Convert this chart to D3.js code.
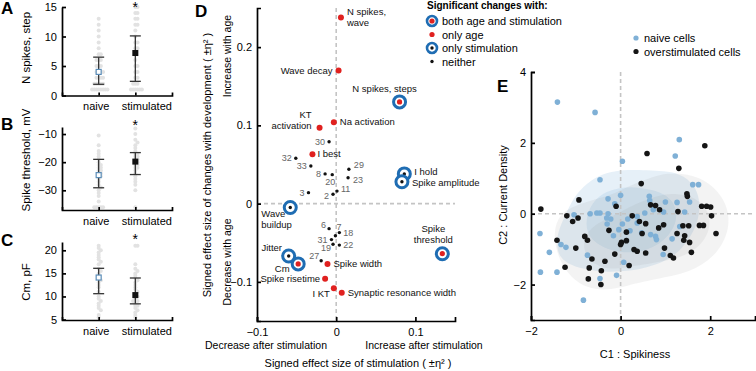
<!DOCTYPE html>
<html>
<head>
<meta charset="utf-8">
<script src="https://cdn.jsdelivr.net/npm/d3@7"></script>
<style>
body { margin: 0; background: #fff; }
svg { display: block; font-family: "Liberation Sans", Arial, sans-serif; }
.axis path, .axis line { stroke: #000; stroke-width: 1.7; }
.axis text { font-size: 11px; fill: #000; font-family: "Liberation Sans", Arial, sans-serif; }
</style>
</head>
<body>
<script>
// ---------- panels A-C : naive vs stimulated ----------
const groups = ['naive', 'stimulated'];

const spikesNaive = [13, 12, 11, 10, 9, 8, 7, 7, 6, 6, 6, 5, 5, 5, 4, 4, 4, 4, 3, 3, 3, 3, 2, 2, 2, 2, 2, 1, 1, 1, 1, 1, 1, 1, 1];
const spikesStim = [15, 15, 14, 14, 13, 13, 12, 12, 11, 10, 9, 9, 8, 8, 7, 6, 5, 5, 4, 4, 3, 3, 2, 2, 2, 1, 1, 1, 1, 1, 1];
const spikesMean = [4.0, 7.2];
const spikesLo = [1.9, 2.4];
const spikesHi = [6.5, 10.1];

const thresholdNaive = [-10.5, -14, -16, -17, -18, -19, -20, -21, -21, -22, -22, -23, -23, -24, -24, -25, -25, -26, -27, -28, -29, -30, -31, -32, -34, -36, -36, -36, -36, -36];
const thresholdStim = [-8, -10, -12, -13, -14, -15, -16, -17, -17, -18, -18, -19, -19, -20, -20, -21, -21, -22, -22, -23, -24, -25, -26, -27, -28, -30, -36];
const thresholdMean = [-24.6, -19.8];
const thresholdLo = [-29.1, -24.4];
const thresholdHi = [-19.0, -16.6];

const cmNaive = [21, 20.5, 20, 19.5, 19, 18.5, 18, 17.5, 17, 16, 15.5, 15, 14.5, 14, 13.5, 13, 12.5, 12, 11, 10, 9.5, 9, 8.5, 8, 7.5, 7, 6, 5.5];
const cmStim = [21, 21, 17, 16, 15.5, 15, 14.5, 14, 13.5, 13, 12.5, 12, 11.5, 11, 10.5, 10, 10, 9.5, 9, 9, 8.5, 8, 8, 7.5, 7, 6.5, 6, 5.5];
const cmMean = [14.1, 10.3];
const cmLo = [10.6, 8.4];
const cmHi = [16.1, 14.0];

// ---------- panel D : effect sizes ----------
const effectNames = ['N spikes, wave', 'Wave decay', 'N spikes, steps', 'Na activation', 'KT activation', '30', 'I best',
  '32', '33', '8', '20', '29', '23', 'I hold', 'Spike amplitude', '3', '2', '11', 'Wave buildup',
  '6', '7', '18', '31', '19', '22', '27', 'Jitter', 'Cm', 'Spike width', 'Spike risetime', 'I KT',
  'Synaptic resonance width', 'Spike threshold'];
const stimEffect = [0.006, 0.003, 0.080, -0.003, -0.021, -0.009, -0.030,
  -0.051, -0.032, -0.014, -0.005, 0.016, 0.015, 0.086, 0.083, -0.035, -0.004, 0.001, -0.058,
  -0.009, -0.001, 0.004, -0.006, -0.004, 0.004, -0.019, -0.060, -0.048, -0.011, -0.014, -0.003,
  0.007, 0.134];
const ageEffect = [0.238, 0.170, 0.130, 0.104, 0.097, 0.079, 0.063,
  0.058, 0.048, 0.038, 0.037, 0.044, 0.033, 0.038, 0.028, 0.014, 0.012, 0.016, -0.005,
  -0.032, -0.041, -0.037, -0.046, -0.052, -0.053, -0.073, -0.067, -0.077, -0.077, -0.096, -0.108,
  -0.114, -0.064];
const significance = ['age', 'age', 'both', 'age', 'age', 'none', 'age',
  'none', 'none', 'none', 'none', 'none', 'none', 'stim', 'stim', 'none', 'none', 'none', 'stim',
  'none', 'none', 'none', 'none', 'none', 'none', 'none', 'stim', 'both', 'age', 'age', 'age',
  'age', 'both'];
const legendKeys = ['both', 'age', 'stim', 'none'];
const legendLabels = ['both age and stimulation', 'only age', 'only stimulation', 'neither'];

// ---------- panel E : PCA of cells ----------
const naiveC1 = [-1.41, -0.57, 1.31, 1.22, 0.04, -0.46, 1.61, 1.74, 0.00, -0.28, -0.13, 0.64, 0.65, 1.00, 0.73, 0.96,
  1.26, 1.54, 1.43, -1.04, -0.68, -0.53, -0.46, -0.28, -0.22, -0.30, -0.04, -0.16, 0.04, 0.16, 0.37, 0.54,
  0.37, 0.21, 0.47, 0.67, 0.78, 0.80, 1.15, 1.32, 0.95, 0.07, -0.74, -1.33, -1.22, -1.59, -1.42, -1.79,
  -0.46, -0.09, -0.83, -1.80, -0.31];
const naiveC2 = [3.15, 2.86, 2.09, 1.63, 1.48, 0.96, 0.82, 0.82, 0.52, 0.42, 0.28, 0.49, 0.37, 0.33, 0.11, 0.05,
  0.32, 0.33, 0.05, -0.03, 0.00, 0.02, 0.02, 0.00, -0.15, -0.29, -0.45, -0.62, -0.29, -0.15, -0.08, 0.02,
  -0.26, -0.48, -0.54, -0.59, -0.64, -0.73, -0.71, -0.36, -1.15, -1.37, -1.17, -0.87, -0.95, -1.09, -1.65, -1.65,
  -1.83, -1.74, -2.44, -0.56, -0.12];
const stimC1 = [1.88, 0.59, 1.30, 0.46, -0.93, -0.10, 0.67, 0.78, 0.87, 1.28, 1.48, 1.49, 1.81, 1.92, 2.01, 2.03,
  2.13, -1.20, -1.07, -0.95, -0.26, 0.26, 0.42, 0.56, 0.13, 0.02, 0.13, 0.00, 0.48, 0.85, 0.96, 1.26,
  1.39, 1.52, 1.43, 1.41, 1.54, 1.76, 1.85, 0.98, 1.11, 1.18, 1.58, 0.30, 0.37, 0.56, 0.19, -0.13,
  -0.35, -0.64, -0.80, -0.74, -1.00, -1.42, -1.24, -0.70, -0.43, -0.72, -0.44, -1.78];
const stimC2 = [1.92, 1.70, 1.28, 0.85, 0.39, 0.21, 0.25, 0.23, 0.11, 0.06, 0.56, 0.49, 0.21, 0.21, 0.19, -0.06,
  -0.56, -0.06, -0.22, -0.12, -0.47, -0.06, -0.22, -0.28, -0.52, -0.81, -0.76, -0.87, -0.56, -0.40, -0.31, -0.56,
  -0.34, -0.34, -0.62, -0.75, -0.81, -0.33, -0.33, -0.97, -1.18, -1.25, -1.09, -1.01, -1.06, -1.11, -1.46, -1.14,
  -1.34, -1.28, -0.64, -0.75, -0.97, -0.75, -1.51, -1.53, -1.61, -1.84, -2.00, 0.13];

// ---------- drawing ----------
const svg = d3.select('body').append('svg')
    .attr('width', 756)
    .attr('height', 371);

const ringBlue = '#1f6db3';
const dotRed = '#e0211f';

function panelLetter(txt, x, y) {
    svg.append('text')
        .attr('x', x).attr('y', y)
        .attr('font-size', 17).attr('font-weight', 'bold')
        .text(txt);
}

function rotLabel(txt, x, y, size) {
    svg.append('text')
        .attr('transform', `translate(${x},${y}) rotate(-90)`)
        .attr('text-anchor', 'middle')
        .attr('font-size', size)
        .text(txt);
}

// swarm-like horizontal spread for values that share a row
function swarmOffsets(values, y) {
    const rows = new Map();
    return values.map(v => {
        const key = Math.round(y(v) / 3);
        const k = rows.get(key) || 0;
        rows.set(key, k + 1);
        return (k % 2 ? 1 : -1) * Math.ceil(k / 2) * 2.2;
    });
}

const gx = d3.scalePoint().domain(groups).range([62, 172]).padding(1);

function groupPanel(p) {
    const y = d3.scaleLinear().domain(p.domain).range(p.range);
    const g = svg.append('g');

    [p.naive, p.stim].forEach((vals, gi) => {
        const offs = swarmOffsets(vals, y);
        g.append('g').selectAll('circle')
            .data(vals)
            .enter().append('circle')
                .attr('cx', (d, i) => gx(groups[gi]) + offs[i])
                .attr('cy', d => y(d))
                .attr('r', 2)
                .attr('fill', '#e2e2e2');
    });

    g.append('g').attr('class', 'axis')
        .attr('transform', `translate(62,0)`)
        .call(d3.axisLeft(y).tickValues(p.ticks).tickSizeInner(-4).tickSizeOuter(0).tickPadding(5));
    const xa = g.append('g').attr('class', 'axis')
        .attr('transform', `translate(0,${p.range[0]})`)
        .call(d3.axisBottom(gx).tickSizeInner(-3).tickSizeOuter(-3).tickPadding(7));
    // the category labels sit slightly apart so they do not touch
    xa.selectAll('.tick text').attr('dx', d => d === 'naive' ? -3 : 11);

    // error bars
    groups.forEach((grp, i) => {
        const x = gx(grp);
        g.append('line').attr('x1', x).attr('x2', x)
            .attr('y1', y(p.lo[i])).attr('y2', y(p.hi[i]))
            .attr('stroke', '#333').attr('stroke-width', 1.3);
        [p.lo[i], p.hi[i]].forEach(v => {
            g.append('line').attr('x1', x - 5.5).attr('x2', x + 5.5)
                .attr('y1', y(v)).attr('y2', y(v))
                .attr('stroke', '#333').attr('stroke-width', 1.3);
        });
    });
    const xn = gx('naive'), xs = gx('stimulated');
    g.append('rect')
        .attr('x', xn - 2.5).attr('y', y(p.mean[0]) - 2.5)
        .attr('width', 5).attr('height', 5)
        .attr('fill', '#fff').attr('stroke', '#5b8db8').attr('stroke-width', 1.2);
    g.append('rect')
        .attr('x', xs - 3).attr('y', y(p.mean[1]) - 3)
        .attr('width', 6).attr('height', 6)
        .attr('fill', '#111');

    g.append('text').attr('x', xs).attr('y', p.starY)
        .attr('text-anchor', 'middle').attr('font-size', 14).text('*');

    rotLabel(p.label, 30, p.labelY, 11.5);
    panelLetter(p.letter, 1, p.letterY);
}

groupPanel({domain: [0, 15], range: [95.5, 7], ticks: [0, 5, 10, 15],
    naive: spikesNaive, stim: spikesStim, mean: spikesMean, lo: spikesLo, hi: spikesHi,
    label: 'N spikes, step', labelY: 48, letter: 'A', letterY: 14, starY: 12});
groupPanel({domain: [-37, -7.5], range: [210, 127], ticks: [-30, -20, -10],
    naive: thresholdNaive, stim: thresholdStim, mean: thresholdMean, lo: thresholdLo, hi: thresholdHi,
    label: 'Spike threshold, mV', labelY: 160, letter: 'B', letterY: 130, starY: 130});
groupPanel({domain: [4.9, 21.8], range: [320, 242], ticks: [5, 10, 15, 20],
    naive: cmNaive, stim: cmStim, mean: cmMean, lo: cmLo, hi: cmHi,
    label: 'Cm, pF', labelY: 282, letter: 'C', letterY: 246, starY: 244});

// ---------- panel D ----------
const dxs = d3.scaleLinear().domain([-0.1, 0.15]).range([257, 455]);
const dys = d3.scaleLinear().domain([-0.15, 0.25]).range([321, 8]);
const fmt1 = d => d === 0 ? '0' : d3.format('.1f')(d);

const dg = svg.append('g');
dg.append('line').attr('x1', dxs(0)).attr('x2', dxs(0)).attr('y1', dys(0.25)).attr('y2', dys(-0.15))
    .attr('stroke', '#c4c4c4').attr('stroke-width', 1.6).attr('stroke-dasharray', '4,3');
dg.append('line').attr('x1', dxs(-0.1)).attr('x2', dxs(0.15)).attr('y1', dys(0)).attr('y2', dys(0))
    .attr('stroke', '#c4c4c4').attr('stroke-width', 1.6).attr('stroke-dasharray', '4,3');

dg.append('g').attr('class', 'axis')
    .attr('transform', `translate(${dxs(-0.1)},0)`)
    .call(d3.axisLeft(dys).tickValues([-0.1, 0, 0.1, 0.2]).tickFormat(fmt1)
        .tickSizeInner(-4).tickSizeOuter(-4).tickPadding(5));
dg.append('g').attr('class', 'axis')
    .attr('transform', `translate(0,${dys(-0.15)})`)
    .call(d3.axisBottom(dxs).tickValues([-0.1, 0, 0.1]).tickFormat(fmt1)
        .tickSizeInner(-4).tickSizeOuter(-4).tickPadding(7));

// label placement for each effect (dx, dy from the point, anchor, line break)
const labelPlace = {
    'N spikes, wave': [6, -2, 'start', ['N spikes,', 'wave']],
    'Wave decay': [-6, 3, 'end'],
    'N spikes, steps': [-15, -10, 'middle'],
    'Na activation': [6, 3, 'start'],
    'KT activation': [-8, -10, 'end', ['KT', 'activation']],
    '30': [-4, 3, 'end'],
    'I best': [5, 3, 'start'],
    '32': [-4, 3, 'end'], '33': [-4, 3, 'end'], '8': [-4, 3, 'end'],
    '20': [3, 10, 'end'],
    '29': [5, -1, 'start'], '23': [5, 5, 'start'],
    'I hold': [10, 1, 'start'],
    'Spike amplitude': [10, 4, 'start'],
    '3': [-4, 3, 'end'], '2': [-4, 5, 'end'], '11': [4, 1, 'start'],
    'Wave buildup': [-29, 9, 'start', ['Wave', 'buildup']],
    '6': [-3, -1, 'end'], '7': [1, -6, 'start'], '18': [4, 3, 'start'],
    '31': [-4, 3, 'end'], '19': [-2, 7, 'end'], '22': [4, 3, 'start'],
    '27': [-2, -2, 'end'],
    'Jitter': [-17, -5, 'middle'],
    'Cm': [-16, 8, 'middle'],
    'Spike width': [6, 3, 'start'],
    'Spike risetime': [-5, 3, 'end'],
    'I KT': [-4, 9, 'end'],
    'Synaptic resonance width': [6, 3, 'start'],
    'Spike threshold': [-9, -22, 'middle', ['Spike', 'threshold']]
};

function marker(sel, kind, ringR, ringW, redR, blackR) {
    if (kind === 'both' || kind === 'stim') {
        sel.append('circle').attr('r', ringR).attr('fill', '#fff')
            .attr('stroke', ringBlue).attr('stroke-width', ringW);
    }
    if (kind === 'both' || kind === 'age') {
        sel.append('circle').attr('r', redR).attr('fill', dotRed);
    } else {
        sel.append('circle').attr('r', blackR).attr('fill', '#111');
    }
}

const effects = effectNames.map((n, i) => ({name: n, x: stimEffect[i], y: ageEffect[i], sig: significance[i]}));

const eg = dg.selectAll('g.effect')
    .data(effects)
    .enter().append('g')
        .attr('class', 'effect')
        .attr('transform', d => `translate(${dxs(d.x)},${dys(d.y)})`);
eg.each(function(d) {
    marker(d3.select(this), d.sig, 6, 3, d.sig === 'both' ? 2.6 : 3, 1.7);
    const pl = labelPlace[d.name];
    const isNum = /^\d+$/.test(d.name);
    const t = d3.select(this).append('text')
        .attr('x', pl[0]).attr('y', pl[1])
        .attr('text-anchor', pl[2])
        .attr('font-size', isNum ? 9 : 9.5)
        .attr('fill', isNum ? '#666' : '#111');
    (pl[3] || [d.name]).forEach((ln, i) => {
        t.append('tspan').attr('x', pl[0]).attr('dy', i ? 11 : 0).text(ln);
    });
});

rotLabel('Signed effect size of changes with development ( \u00b1\u03b7\u00b2 )', 211, 165, 11);
rotLabel('Increase with age', 231, 56, 10.5);
rotLabel('Decrease with age', 231, 262, 10.5);
svg.append('text').attr('x', 266).attr('y', 349).attr('text-anchor', 'middle').attr('font-size', 10.5)
    .text('Decrease after stimulation');
svg.append('text').attr('x', 424).attr('y', 349).attr('text-anchor', 'middle').attr('font-size', 10.5)
    .text('Increase after stimulation');
svg.append('text').attr('x', 358).attr('y', 367).attr('text-anchor', 'middle').attr('font-size', 11)
    .text('Signed effect size of stimulation ( \u00b1\u03b7\u00b2 )');
panelLetter('D', 195, 17);

// legend D
svg.append('text').attr('x', 427).attr('y', 9).attr('font-size', 10).attr('font-weight', 'bold')
    .text('Significant changes with:');
legendKeys.forEach((k, i) => {
    const cy = 21 + i * 13.5;
    const s = svg.append('g').attr('transform', `translate(432,${cy})`);
    marker(s, k, 5, 2.6, 2.6, 1.7);
    svg.append('text').attr('x', 442).attr('y', cy + 4).attr('font-size', 11).text(legendLabels[i]);
});

// ---------- panel E ----------
const ex = d3.scaleLinear().domain([-2, 3]).range([531, 755]);
const ey = d3.scaleLinear().domain([-3, 4]).range([320, 72]);

svg.append('clipPath').attr('id', 'eclip')
    .append('rect').attr('x', ex(-2)).attr('y', ey(4)).attr('width', ex(3) - ex(-2)).attr('height', ey(-3) - ey(4));

const naivePts = naiveC1.map((c, i) => [ex(c), ey(naiveC2[i])]);
const stimPts = stimC1.map((c, i) => [ex(c), ey(stimC2[i])]);

function densityLevels(pts, fracs) {
    const cs = d3.contourDensity().x(d => d[0]).y(d => d[1])
        .size([756, 371]).bandwidth(24).thresholds(40)(pts);
    const mx = d3.max(cs, c => c.value);
    return fracs.map(f => cs.reduce((a, c) => Math.abs(c.value - f * mx) < Math.abs(a.value - f * mx) ? c : a));
}

const cg = svg.append('g').attr('clip-path', 'url(#eclip)');
densityLevels(naivePts, [0.36, 0.65]).forEach(c => {
    cg.append('path').attr('d', d3.geoPath()(c)).attr('fill', '#8dbbe0').attr('fill-opacity', 0.22);
});
densityLevels(stimPts, [0.36, 0.65]).forEach(c => {
    cg.append('path').attr('d', d3.geoPath()(c)).attr('fill', '#909090').attr('fill-opacity', 0.11);
});

cg.append('line').attr('x1', ex(0)).attr('x2', ex(0)).attr('y1', ey(4)).attr('y2', ey(-3))
    .attr('stroke', '#c4c4c4').attr('stroke-width', 1.6).attr('stroke-dasharray', '4,3');
cg.append('line').attr('x1', ex(-2)).attr('x2', ex(3)).attr('y1', ey(0)).attr('y2', ey(0))
    .attr('stroke', '#c4c4c4').attr('stroke-width', 1.6).attr('stroke-dasharray', '4,3');

cg.append('g').selectAll('circle')
    .data(naivePts)
    .enter().append('circle')
        .attr('cx', d => d[0]).attr('cy', d => d[1]).attr('r', 2.8)
        .attr('fill', '#7fb0d6');
cg.append('g').selectAll('circle')
    .data(stimPts)
    .enter().append('circle')
        .attr('cx', d => d[0]).attr('cy', d => d[1]).attr('r', 2.8)
        .attr('fill', '#151515');

svg.append('g').attr('class', 'axis')
    .attr('transform', `translate(${ex(-2)},0)`)
    .call(d3.axisLeft(ey).tickValues([-2, 0, 2, 4]).tickFormat(d3.format('d'))
        .tickSizeInner(-4).tickSizeOuter(-4).tickPadding(5));
svg.append('g').attr('class', 'axis')
    .attr('transform', `translate(0,${ey(-3)})`)
    .call(d3.axisBottom(ex).tickValues([-2, 0, 2]).tickFormat(d3.format('d'))
        .tickSizeInner(-4).tickSizeOuter(-4).tickPadding(7));

rotLabel('C2 : Current Density', 507, 195, 11);
svg.append('text').attr('x', 635).attr('y', 358).attr('text-anchor', 'middle').attr('font-size', 11)
    .text('C1 : Spikiness');
panelLetter('E', 497, 92);

// legend E
[['naive cells', '#7fb0d6'], ['overstimulated cells', '#151515']].forEach((d, i) => {
    svg.append('circle').attr('cx', 636).attr('cy', 38 + i * 13.5).attr('r', 2.6).attr('fill', d[1]);
    svg.append('text').attr('x', 644).attr('y', 42 + i * 13.5).attr('font-size', 11).text(d[0]);
});
</script>
</body>
</html>
